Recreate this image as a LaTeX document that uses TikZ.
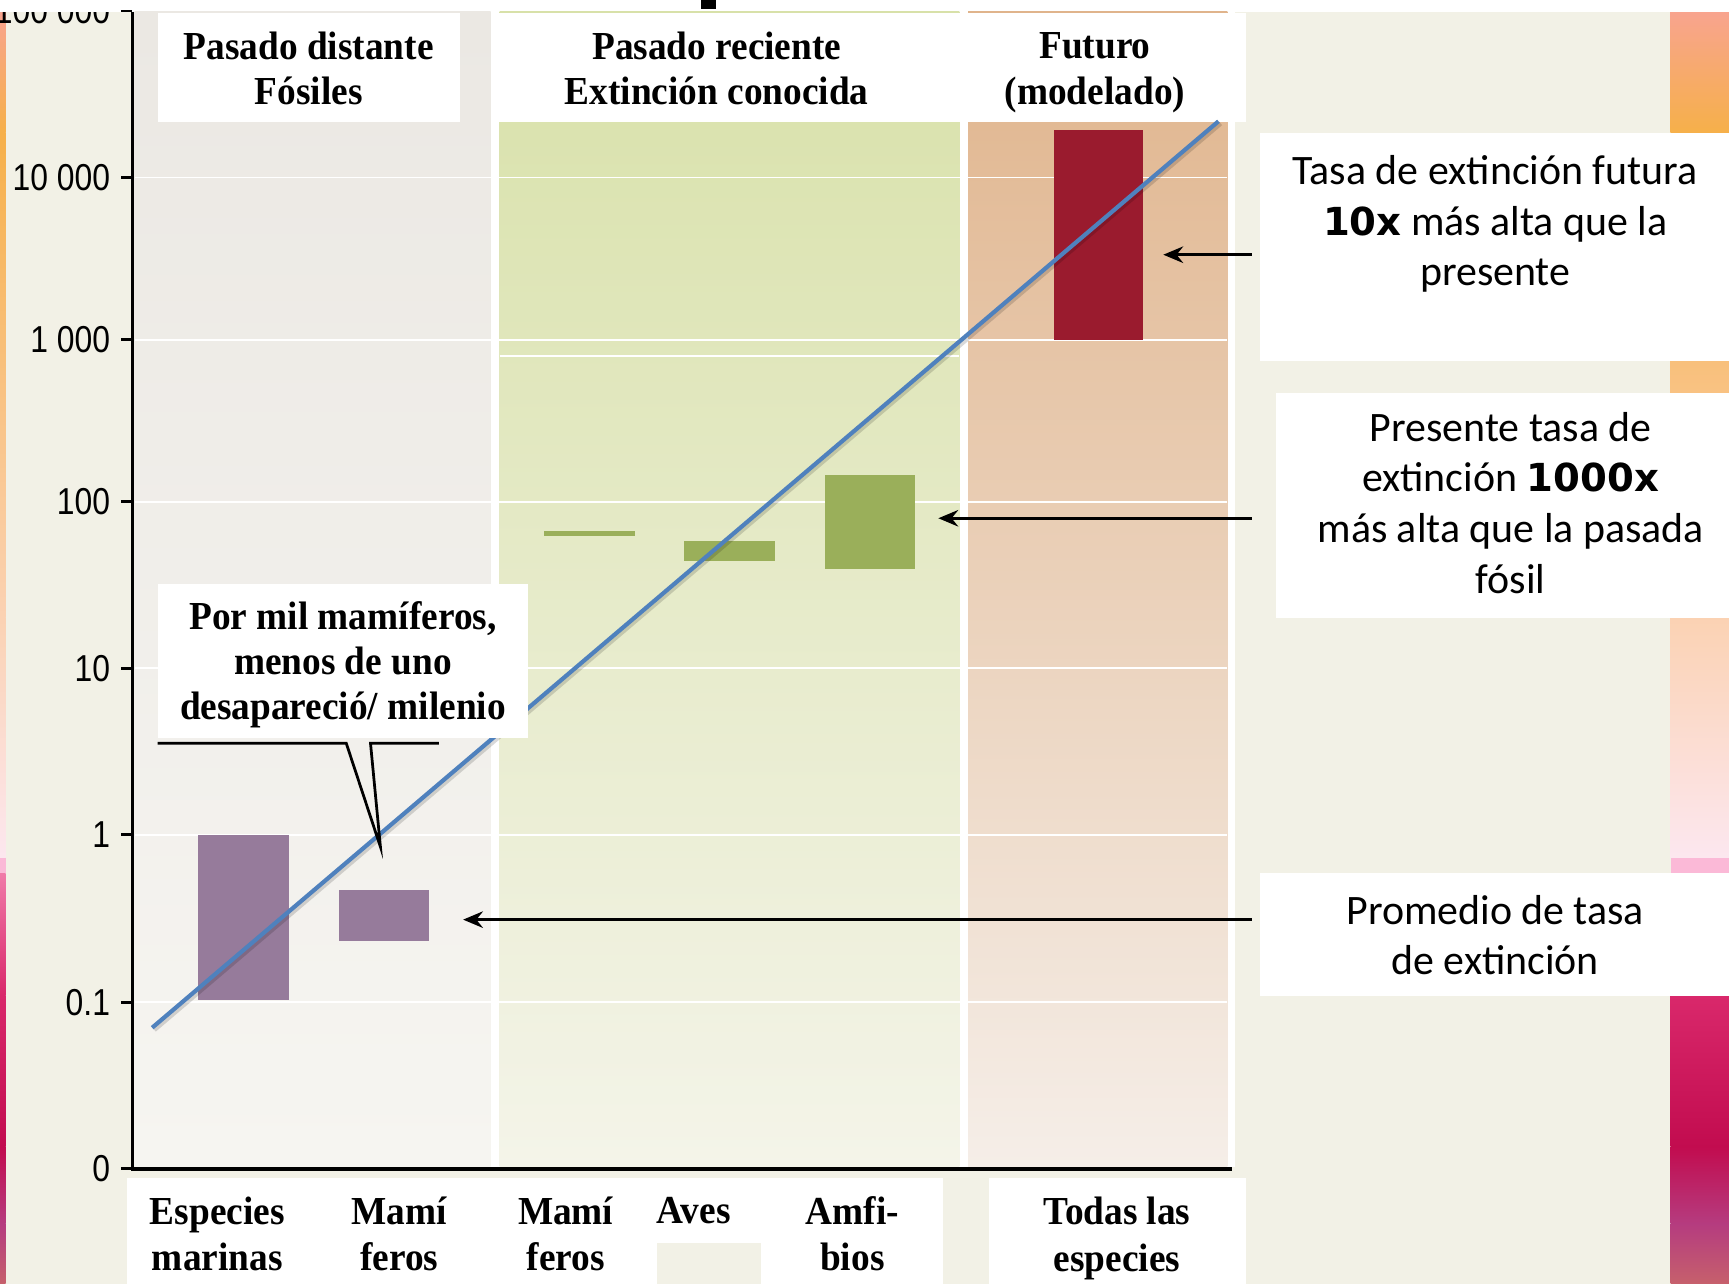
\documentclass[tikz,border=0pt]{standalone}
\usepackage{fontspec}
\usetikzlibrary{arrows.meta}
\newfontfamily\hdrf{Liberation Serif}[FakeStretch=0.94]
\newfontfamily\axf{Liberation Sans}[FakeStretch=0.85]
\newfontfamily\calf{Carlito}
\newfontfamily\heavyf{DejaVu Sans}
\definecolor{cream}{HTML}{F2F1E6}
\definecolor{graytop}{HTML}{EBE8E3}
\definecolor{graybot}{HTML}{F6F5F1}
\definecolor{greentop}{HTML}{D8E1A9}
\definecolor{greenbot}{HTML}{F4F4E9}
\definecolor{orangetop}{HTML}{E0B48C}
\definecolor{orangebot}{HTML}{F5EEE8}
\definecolor{purp}{HTML}{967B9B}
\definecolor{grn}{HTML}{9AAF5A}
\definecolor{redbar}{HTML}{9A1B2E}
\definecolor{blueline}{HTML}{4F81BD}
\definecolor{sA}{HTML}{F8A48F}
\definecolor{sB}{HTML}{F6B04A}
\definecolor{sC}{HTML}{FBD2B3}
\definecolor{sD}{HTML}{FCE7EF}
\definecolor{sE}{HTML}{FBB9D7}
\definecolor{sF}{HTML}{F07AA8}
\definecolor{sG}{HTML}{D9286B}
\definecolor{sH}{HTML}{C20C4F}
\definecolor{sI}{HTML}{B53C7F}
\definecolor{sJ}{HTML}{C6606C}
\tikzset{
  wbox/.style={fill=white, draw=none, inner sep=0pt, outer sep=0pt, anchor=north west},
  barbox/.style={draw=none, inner sep=0pt, outer sep=0pt, anchor=north west},
  hdr/.style={font=\hdrf\bfseries\fontsize{36}{41}\selectfont, align=center, inner sep=0pt},
  lbl/.style={font=\hdrf\bfseries\fontsize{36}{42}\selectfont, align=center, inner sep=0pt},
  ticklbl/.style={font=\axf\fontsize{34}{34}\selectfont, anchor=east, inner sep=0pt},
  note/.style={font=\calf\fontsize{38}{46}\selectfont, align=center, inner sep=0pt},
  arr/.style={line width=2.5pt, -{Stealth[length=18pt,width=15pt,inset=6pt]}},
  grid/.style={white, line width=1.6pt},
}
\newcommand{\hv}[1]{{\heavyf\bfseries\fontsize{35}{46}\selectfont #1}}
\begin{document}
\begin{tikzpicture}[x=1pt,y=-1pt]
\useasboundingbox (0,0) rectangle (1568,1164);
\fill[cream] (0,0) rectangle (1568,1164);
% colour strips (left and right edges)
\foreach \xa/\xb in {0/5, 1515/1568}{
  \shade[top color=sA, bottom color=sB] (\xa,10) rectangle (\xb,120);
  \shade[top color=sB, bottom color=sC] (\xa,120) rectangle (\xb,560);
  \shade[top color=sC, bottom color=sD] (\xa,560) rectangle (\xb,778);
  \fill[sE] (\xa,778) rectangle (\xb,792);
  \shade[top color=sF, bottom color=sG] (\xa,792) rectangle (\xb,903);
  \shade[top color=sG, bottom color=sH] (\xa,903) rectangle (\xb,1040);
  \shade[top color=sH, bottom color=sI] (\xa,1040) rectangle (\xb,1110);
  \shade[top color=sI, bottom color=sJ] (\xa,1110) rectangle (\xb,1164);
}
% top tick label, partly hidden under the white band as in the reference
\node[ticklbl] (t5) at (100,10) {100 000};
\fill[white] (0,0) rectangle (1568,10.5);
\fill[black] (636,0) rectangle (649,8);
% plot area panels
\fill[white] (122,10.5) rectangle (1120,1058);
\shade[top color=graytop, bottom color=graybot] (122,10.5) rectangle (445,1058);
\shade[top color=greentop, bottom color=greenbot] (453,10.5) rectangle (870,1058);
\shade[top color=orangetop, bottom color=orangebot] (878,10.5) rectangle (1113,1058);
% grid lines
\foreach \y in {161,308,455,606,757,909}{
  \draw[grid] (122,\y) -- (1113,\y);
}
\draw[grid] (453,323) -- (870,323);
% header boxes
\node[wbox, minimum width=274pt, minimum height=99pt] (hd1) at (143,12) {};
\node[wbox, minimum width=685pt, minimum height=99pt] (hd2) at (445,12) {};
\node[hdr] (h1) at (280,62) {Pasado distante\\Fósiles};
\node[hdr] (h2) at (650,62) {Pasado reciente\\Extinción conocida};
\node[hdr] (h3) at (993,66) {Futuro\\(modelado)};
% bars
\node[barbox, fill=purp, minimum width=82pt, minimum height=150pt] (b1) at (180,757) {};
\node[barbox, fill=purp, minimum width=82pt, minimum height=46pt] (b2) at (307,807) {};
\node[barbox, fill=grn, minimum width=83pt, minimum height=4pt] (b3) at (493,482) {};
\node[barbox, fill=grn, minimum width=83pt, minimum height=18pt] (b4) at (620,491) {};
\node[barbox, fill=grn, minimum width=82pt, minimum height=85pt] (b5) at (748,431) {};
\node[barbox, fill=redbar, minimum width=81pt, minimum height=190pt] (b6) at (956,118) {};
% trend line
\coordinate (l0) at (138,932);
\coordinate (l1) at (1105,110);
\draw[line width=4pt, black, opacity=0.15] ([shift={(2,2)}]l0) -- ([shift={(2,2)}]l1);
\draw[line width=3.8pt, blueline] (l0) -- (l1);
% callout
\node[wbox, minimum width=336pt, minimum height=139pt] (cb) at (143,530) {};
\node[hdr] (ct) at (311,603) {Por mil mamíferos,\\menos de uno\\desapareció/ milenio};
\coordinate (tip) at (345,768);
\draw[line width=2.5pt, line join=miter] (143,674) -- (314,674) -- (tip) -- (336,674) -- (398,674);
% axes
\draw[line width=3pt] (120,10.5) -- (120,1060) -- (1117,1060);
\foreach \y/\t/\n in {10/{}/a, 161/10 000/b, 308/1 000/c, 455/100/d, 606/10/e, 757/1/f, 909/0.1/g, 1060/0/h}{
  \draw[line width=2.5pt] (110,\y) -- (120,\y);
  \node[ticklbl] (tk\n) at (100,\y) {\t};
}
% bottom category labels
\node[wbox, minimum width=740pt, minimum height=96pt] (bt1) at (115,1068) {};
\node[wbox, minimum width=233pt, minimum height=96pt] (bt2) at (897,1068) {};
\node[fill=cream, anchor=north west, minimum width=94pt, minimum height=37pt, inner sep=0pt] (hide) at (596,1127) {};
\node[lbl] (c1) at (197,1119) {Especies\\marinas};
\node[lbl] (c2) at (362,1119) {Mamí\\feros};
\node[lbl] (c3) at (513,1119) {Mamí\\feros};
\node[lbl, anchor=base] (c4) at (629,1110) {Aves};
\node[lbl] (c5) at (773,1119) {Amfi-\\bios};
\node[lbl] (c6) at (1013,1123) {Todas las\\especies};
% right notes
\node[wbox, minimum width=425pt, minimum height=206pt] (n1) at (1143,121) {};
\node[wbox, minimum width=411pt, minimum height=204pt] (n2) at (1157,356) {};
\node[wbox, minimum width=425pt, minimum height=111pt] (n3) at (1143,792) {};
\node[note] (n1t) at (1356,203) {Tasa de extinción futura\\\hv{10x} más alta que la\\presente};
\node[note] (n2t) at (1370,456) {Presente tasa de\\extinción \hv{1000x}\\más alta que la pasada\\fósil};
\node[note] (n3t) at (1356,848) {Promedio de tasa\\de extinción};
% arrows
\coordinate (a1s) at (1135,231);
\coordinate (a2s) at (1135,470);
\coordinate (a3s) at (1135,834);
\draw[arr] (a1s) -- ([xshift=18pt]b6.east |- a1s);
\draw[arr] (a2s) -- ([xshift=21pt]b5.east |- a2s);
\draw[arr] (a3s) -- ([xshift=31pt]b2.east |- a3s);
\end{tikzpicture}
\end{document}
